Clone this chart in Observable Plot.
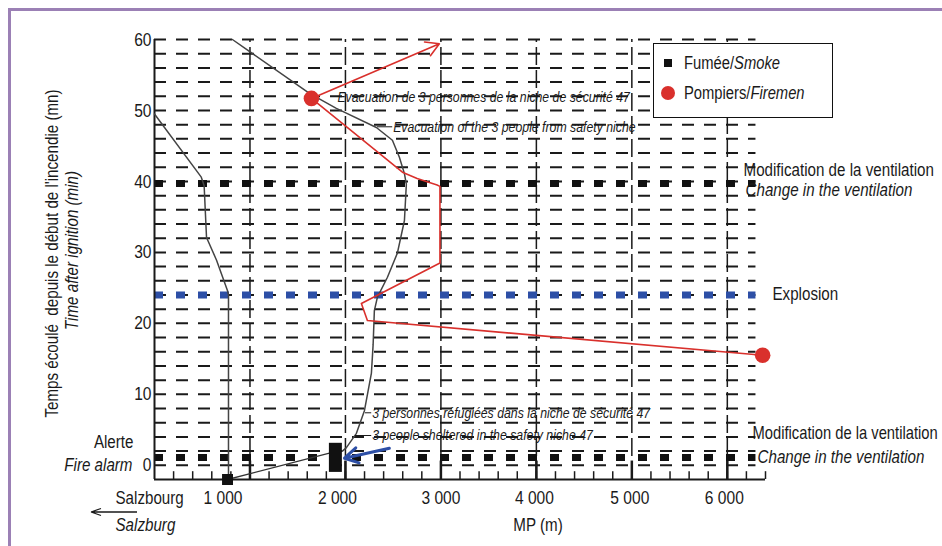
<!DOCTYPE html>
<html>
<head>
<meta charset="utf-8">
<script src="https://cdn.jsdelivr.net/npm/d3@7"></script>
<script src="https://cdn.jsdelivr.net/npm/@observablehq/plot@0.6"></script>
<style>
  body { margin: 0; background: #fff; }
  #wrap { position: relative; width: 942px; height: 546px; overflow: hidden; background: #fff; }
  #chart { position: absolute; left: 0; top: 0; }
  #frame { position: absolute; left: 8px; top: 8px; width: 960px; height: 560px;
           border-top: 3px solid #9b80b5; border-left: 3px solid #9b80b5; }
  #legend { position: absolute; left: 653px; top: 43px; width: 178px; height: 73px;
            background: #fff; border: 1.5px solid #111;
            font-family: "Liberation Sans", Arial, sans-serif;
            font-size: 18px; color: #1a1a1a; }
  #legend .row { position: absolute; left: 30px; line-height: 20px; white-space: nowrap;
                 transform: scaleX(0.82); transform-origin: 0 50%; }
  #legend .sq { position: absolute; left: 10px; width: 8px; height: 8px; background: #111; }
  #legend .ci { position: absolute; left: 7px; width: 14px; height: 14px; border-radius: 50%; background: #d9302c; }
</style>
</head>
<body>
<div id="wrap">
  <div id="chart"></div>
  <div id="frame"></div>
  <div id="legend">
    <span class="sq" style="top:15px"></span>
    <div class="row" style="top:9px">Fumée/<i>Smoke</i></div>
    <span class="ci" style="top:42px"></span>
    <div class="row" style="top:39px">Pompiers/<i>Firemen</i></div>
  </div>
</div>
<script>
// ---------- data ----------
const yTicks = [0, 10, 20, 30, 40, 50, 60];
const xTicks = [1000, 2000, 3000, 4000, 5000, 6000];
const xTickLabels = ["1 000", "2 000", "3 000", "4 000", "5 000", "6 000"];
const gridT = d3.range(0, 61, 2);          // horizontal dashed grid (min)
const minorMP = d3.range(200, 6401, 200);  // minor ticks (m)

const ventilationT = [39.7, 1.1];          // changes in ventilation (min)
const explosionT = [24];                   // explosion (min)

// smoke front towards Salzburg (west)
const smokeWestMP = [0, 490, 520, 545, 650, 765, 775, 775];
const smokeWestT  = [49.5, 40.6, 39.4, 32.1, 28.9, 24.6, 24, -2];
// smoke front (east)
const smokeEastMP = [816, 1623, 1905, 2324, 2492, 2565, 2618, 2638, 2618, 2544, 2440, 2335, 2303, 2290, 2272, 2199, 2115, 2010, 1968];
const smokeEastT  = [60, 52.4, 50.3, 47.6, 45.8, 43.4, 41.1, 39.6, 34.5, 29.9, 26.5, 23.7, 21.8, 17, 13, 7.7, 4.5, 2.5, 2.0];
// fire origin and initial spread
const originMP = [765];
const originT  = [-2];
const spreadMP = [765, 1832];
const spreadT  = [-2, 1.7];
// safety niche 47 (3 people sheltered)
const shelterMP = [1832, 1968];
const shelterT  = [-1.0, 3.1];
const exitMP = [2460, 1990];
const exitT  = [2.4, 1.0];
// firemen
const firemenMP = [6370, 2230, 2167, 2990, 2990, 2960, 2751, 2597, 1644];
const firemenT  = [15.5, 20.4, 22.8, 28.5, 39.3, 39.5, 40.4, 41.3, 51.7];
const firemenDotMP = [1644, 6370];
const firemenDotT  = [51.7, 15.5];
const evacMP = [1644, 2984];
const evacT  = [51.7, 59.4];

// annotation texts
const evacFr = "Evacuation de 3 personnes de la niche de sécurité 47";
const evacEn = "Evacuation of the 3 people from safety niche";
const shelterFr = "3 personnes réfugiées dans la niche de sécurité 47";
const shelterEn = "3 people sheltered in the safety niche 47";
const ventFr = "Modification de la ventilation";
const ventEn = "Change in the ventilation";
const explosionLabel = "Explosion";

// ---------- layout ----------
const FONT = '"Liberation Sans", Arial, sans-serif';
const CONDENSE = 0.82;
const INK = "#1a1a1a";
const RED = "#d9302c";
const BLUE = "#2d4fa6";
const labelNudge = {1000: -27, 2000: -8, 3000: 0, 4000: -2, 5000: -2, 6000: -3};
const gridEnd = 6300;

const big = {fontFamily: FONT, fontSize: 18.5, fill: INK, lineAnchor: "middle"};
const small = {fontFamily: FONT, fontSize: 15, fill: INK, fontStyle: "italic", lineAnchor: "middle"};

const chart = Plot.plot({
  width: 942,
  height: 546,
  marginLeft: 154,
  marginRight: 177,
  marginTop: 39,
  marginBottom: 67,
  x: {domain: [0, 6400], axis: null},
  y: {domain: [-2, 60], axis: null},
  style: {background: "transparent", fontFamily: FONT, color: INK},
  marks: [
    // grid
    Plot.ruleY(gridT, {x1: 0, x2: gridEnd, stroke: INK, strokeWidth: 2, strokeDasharray: "12,10"}),
    Plot.ruleX(xTicks, {y1: -2, y2: 60, stroke: INK, strokeWidth: 1.5, strokeDasharray: "18,5"}),
    // event lines
    Plot.ruleY(ventilationT, {x1: 0, x2: gridEnd, stroke: "#111", strokeWidth: 7, strokeDasharray: "9,13"}),
    Plot.ruleY(explosionT, {x1: 0, x2: gridEnd, stroke: BLUE, strokeWidth: 7, strokeDasharray: "9,13"}),
    // axes
    Plot.ruleX([0], {y1: -2, y2: 60, stroke: INK, strokeWidth: 2}),
    Plot.ruleY([-2], {x1: 0, x2: 6400, stroke: INK, strokeWidth: 2}),
    Plot.ruleX(minorMP, {y1: -2, y2: -0.9, stroke: INK, strokeWidth: 1.5}),
    Plot.ruleX(xTicks, {y1: -2, y2: 0.6, stroke: INK, strokeWidth: 2.5}),
    // smoke
    Plot.line(smokeWestT, {x: smokeWestMP, y: smokeWestT, stroke: "#444", strokeWidth: 1.5}),
    Plot.line(smokeEastT, {x: smokeEastMP, y: smokeEastT, stroke: "#444", strokeWidth: 1.5}),
    Plot.line(spreadT, {x: spreadMP, y: spreadT, stroke: "#333", strokeWidth: 1.3}),
    Plot.rect([0], {x1: shelterMP[0], x2: shelterMP[1], y1: shelterT[0], y2: shelterT[1], fill: "#111"}),
    Plot.dot(originT, {x: originMP, y: originT, symbol: "square", r: 6.2, fill: "#111"}),
    Plot.arrow([0], {x1: exitMP[0], y1: exitT[0], x2: exitMP[1], y2: exitT[1], stroke: BLUE, strokeWidth: 3, headLength: 10}),
    // firemen
    Plot.line(firemenT, {x: firemenMP, y: firemenT, stroke: RED, strokeWidth: 1.6}),
    Plot.arrow([0], {x1: evacMP[0], y1: evacT[0], x2: evacMP[1], y2: evacT[1], stroke: RED, strokeWidth: 1.6, headLength: 14}),
    Plot.dot(firemenDotT, {x: firemenDotMP, y: firemenDotT, r: 7.8, fill: RED}),
    // leaders
    Plot.link([0], {x1: 2330, x2: 2490, y1: 47.7, y2: 47.7, stroke: INK, strokeWidth: 1}),
    Plot.link([0], {x1: 2205, x2: 2270, y1: 7.4, y2: 7.4, stroke: INK, strokeWidth: 1}),
    Plot.link([0], {x1: 2100, x2: 2270, y1: 4.2, y2: 4.2, stroke: INK, strokeWidth: 1}),
    // annotations
    Plot.text([evacFr], {x: 1916, y: 51.8, text: d => d, textAnchor: "start", ...small}),
    Plot.text([evacEn], {x: 2500, y: 47.7, text: d => d, textAnchor: "start", ...small}),
    Plot.text([shelterFr], {x: 2280, y: 7.4, text: d => d, textAnchor: "start", ...small}),
    Plot.text([shelterEn], {x: 2280, y: 4.2, text: d => d, textAnchor: "start", ...small}),
    Plot.text([ventFr], {x: 6400, y: ventilationT[0], text: d => d, textAnchor: "start", dx: -22, dy: -13, ...big}),
    Plot.text([ventEn], {x: 6400, y: ventilationT[0], text: d => d, textAnchor: "start", dx: -20, dy: 7, ...big, fontStyle: "italic"}),
    Plot.text([explosionLabel], {x: 6400, y: explosionT[0], text: d => d, textAnchor: "start", dx: 7, dy: -1, ...big}),
    Plot.text([ventFr], {x: 6400, y: ventilationT[1], text: d => d, textAnchor: "start", dx: -13, dy: -24, ...big, fontSize: 18}),
    Plot.text([ventEn], {x: 6400, y: ventilationT[1], text: d => d, textAnchor: "start", dx: -8, dy: 0, ...big, fontStyle: "italic"}),
    // tick labels
    Plot.text(yTicks, {x: 0, y: d => d, text: d => String(d), textAnchor: "end", dx: -3, fontFamily: FONT, fontSize: 19, fill: INK}),
    ...xTicks.map((v, i) => Plot.text([v], {x: d => d, y: -2, text: () => xTickLabels[i], dx: labelNudge[v], dy: 18, fontFamily: FONT, fontSize: 19, fill: INK})),
    // left labels
    Plot.text(["Alerte"], {x: 0, y: 0, text: d => d, textAnchor: "end", dx: -21, dy: -23, ...big}),
    Plot.text(["Fire alarm"], {x: 0, y: 0, text: d => d, textAnchor: "end", dx: -22, dy: 0, ...big, fontStyle: "italic"}),
    // axis titles
    Plot.text(["Temps écoulé  depuis le début de l'incendie (mn)"], {frameAnchor: "left", text: d => d, textAnchor: "middle", rotate: -90, dx: -102, dy: -6, ...big}),
    Plot.text(["Time after ignition (min)"], {frameAnchor: "left", text: d => d, textAnchor: "middle", rotate: -90, dx: -82, dy: -9, ...big, fontStyle: "italic"}),
    Plot.text(["MP (m)"], {frameAnchor: "bottom", text: d => d, textAnchor: "middle", dx: 78, dy: 46, ...big}),
    Plot.text(["Salzbourg"], {frameAnchor: "bottom-left", text: d => d, textAnchor: "start", dx: -39, dy: 19, ...big}),
    Plot.text(["Salzburg"], {frameAnchor: "bottom-left", text: d => d, textAnchor: "start", dx: -39, dy: 46, ...big, fontStyle: "italic"})
  ]
});

// decorative direction arrow towards Salzburg
d3.select(chart).append("path")
  .attr("d", "M137,512H91M91,512l10,-3.5M91,512l10,3.5")
  .attr("fill", "none").attr("stroke", INK).attr("stroke-width", 1.3);

document.getElementById("chart").appendChild(chart);

// condensed lettering: squeeze every label along its own direction, about its anchor point
d3.select(chart).selectAll("text").each(function () {
  const t = this.getAttribute("transform");
  if (t) {
    this.setAttribute("transform", `${t} scale(${CONDENSE},1)`);
  } else {
    const x = parseFloat(this.getAttribute("x")) || 0;
    this.removeAttribute("x");
    this.setAttribute("transform", `translate(${x},0) scale(${CONDENSE},1)`);
  }
});
</script>
</body>
</html>
